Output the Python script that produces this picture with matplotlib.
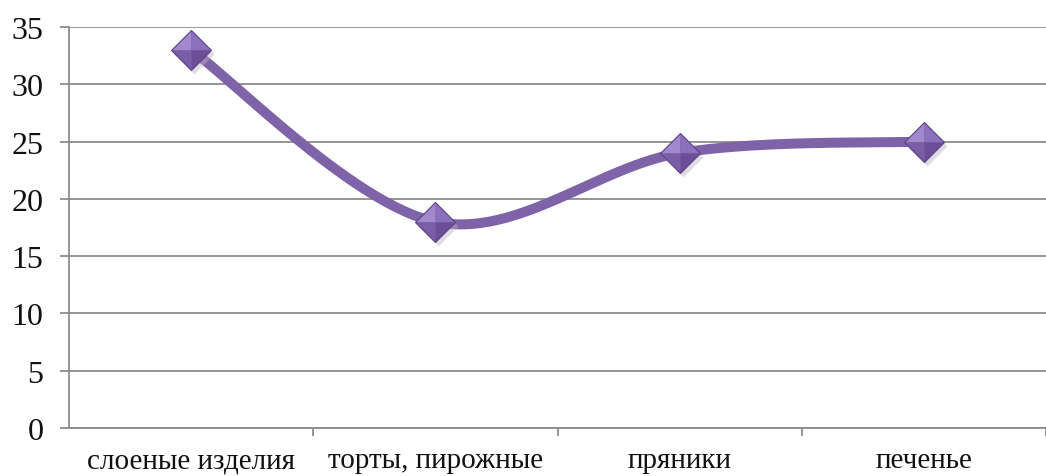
import numpy as np
import matplotlib
matplotlib.use("Agg")
import matplotlib.pyplot as plt

categories = ["слоеные изделия", "торты, пирожные", "пряники", "печенье"]
values = [33, 18, 24, 25]
y_ticks = [0, 5, 10, 15, 20, 25, 30, 35]

plt.rcParams["font.family"] = ["Liberation Serif", "DejaVu Serif"]

LINE = "#7f63a8"
GRID = "#8c8c8c"


def smooth_curve(xs, ys, steps=60):
    """Cubic Bezier smoothing through every point (Catmull-Rom style)."""
    pts = np.column_stack([xs, ys]).astype(float)
    n = len(pts)
    out = []
    for i in range(n - 1):
        p0 = pts[max(i - 1, 0)]
        p1 = pts[i]
        p2 = pts[i + 1]
        p3 = pts[min(i + 2, n - 1)]
        c1 = p1 + (p2 - p0) / 6.0
        c2 = p2 - (p3 - p1) / 6.0
        t = np.linspace(0, 1, steps)[:, None]
        seg = ((1 - t) ** 3) * p1 + 3 * ((1 - t) ** 2) * t * c1 \
            + 3 * (1 - t) * t ** 2 * c2 + t ** 3 * p2
        out.append(seg if i == 0 else seg[1:])
    seg = np.vstack(out)
    return seg[:, 0], seg[:, 1]


fig = plt.figure(figsize=(10.46, 4.77), dpi=100)
ax = fig.add_axes([69 / 1046, 48 / 477, (1046 - 69) / 1046, 401 / 477])

x = np.arange(len(categories))
sx, sy = smooth_curve(x, values)
ax.plot(sx, sy, color=LINE, lw=7.2, solid_capstyle="round", zorder=3)

# faceted diamond markers
facets = [
    ([(-1, 0), (0, 1), (0, 0)], "#a189cc"),
    ([(0, 1), (1, 0), (0, 0)], "#8b70bb"),
    ([(1, 0), (0, -1), (0, 0)], "#6b4e97"),
    ([(0, -1), (-1, 0), (0, 0)], "#795da6"),
]
ax.plot(x + 0.012, np.array(values) - 0.35, ls="none", marker="D", ms=20,
        color="#b9b2c4", alpha=0.45, mec="none", zorder=4)
ax.plot(x, values, ls="none", marker="D", ms=20, color="#6f5299",
        mec="#5c4284", mew=0.8, zorder=5)
for verts, col in facets:
    ax.plot(x, values, ls="none", marker=verts, ms=27.5, color=col,
            mec="none", zorder=6)

ax.set_xlim(-0.5, (1046 - 69) / 247 - 0.5)
ax.set_ylim(0, 35)
ax.set_yticks(y_ticks)
ax.set_xticks(x)
ax.set_xticklabels(categories)
ax.set_xticks(np.arange(len(categories)) + 0.5, minor=True)

ax.grid(axis="y", color=GRID, lw=1.3)
ax.set_axisbelow(True)
for s in ("top", "right"):
    ax.spines[s].set_visible(False)
for s in ("left", "bottom"):
    ax.spines[s].set_color(GRID)
    ax.spines[s].set_linewidth(1.3)

ax.tick_params(axis="y", length=6.5, width=1.3, color=GRID, pad=12,
               labelsize=23, labelcolor="#111111")
ax.tick_params(axis="x", which="major", length=0, pad=14, labelsize=21,
               labelcolor="#111111")
ax.tick_params(axis="x", which="minor", length=6, width=1.3, color=GRID,
               direction="out")

fig.savefig("out.png", dpi=100)
